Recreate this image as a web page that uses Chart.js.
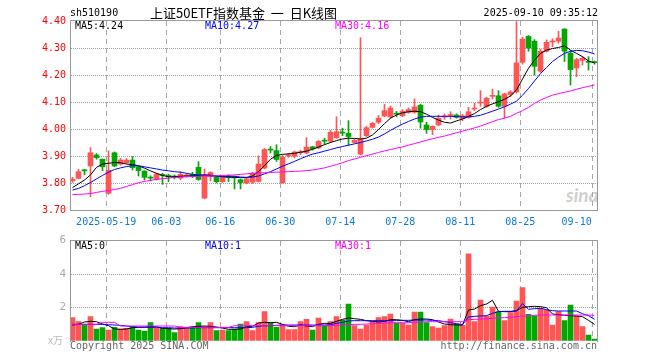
<!DOCTYPE html>
<html><head><meta charset="utf-8">
<script src="https://cdn.jsdelivr.net/npm/chart.js@4/dist/chart.umd.min.js"></script>
<style>
html,body{margin:0;padding:0;background:#fff;}
#wrap{position:relative;width:660px;height:360px;overflow:hidden;background:#fff;}
canvas{position:absolute;left:0;z-index:2;}
.g{position:absolute;z-index:1;}
.t{position:absolute;z-index:3;white-space:pre;font-family:'DejaVu Sans Mono',monospace;font-size:10px;line-height:12px;height:12px;}
</style></head><body>
<div id="wrap">
<canvas id="k" width="660" height="232" style="top:0;width:660px;height:232px"></canvas>
<canvas id="v" width="660" height="130" style="top:230px;width:660px;height:130px"></canvas>
<div class="t" style="left:70px;top:7px;color:#000">sh510190</div>
<div class="t" style="left:150px;top:5px;height:16px;line-height:16px;font-family:'Noto Sans CJK SC',sans-serif;font-size:13px;color:#000">上证50ETF指数基金  一  日K线图</div>
<div class="t" style="right:62px;top:7px;color:#000">2025-09-10 09:35:12</div>
<div class="t" style="left:75px;top:20px;color:#000">MA5:4.24</div>
<div class="t" style="left:205px;top:20px;color:#0000ff">MA10:4.27</div>
<div class="t" style="left:335px;top:20px;color:#ff00ff">MA30:4.16</div>
<div class="t" style="left:75px;top:240px;color:#000">MA5:0</div>
<div class="t" style="left:205px;top:240px;color:#0000ff">MA10:1</div>
<div class="t" style="left:335px;top:240px;color:#ff00ff">MA30:1</div>
<div class="t" style="left:70px;top:340px;color:#666">Copyright 2025 SINA.COM</div>
<div class="t" style="right:63px;top:340px;color:#666">http://finance.sina.com.cn</div>
<div class="t" style="left:48px;top:334px;color:#bbb;font-family:'Noto Sans CJK SC',sans-serif">x万</div>
<div class="t" style="left:566px;top:185px;height:20px;line-height:20px;font-family:Lato,sans-serif;font-size:19px;font-weight:bold;font-style:italic;color:#d0d0d0;z-index:0">sina</div>
</div>
<script>
const days = ['05-09','05-12','05-13','05-14','05-15','05-16','05-19','05-20','05-21','05-22',
'05-23','05-26','05-27','05-28','05-29','05-30','06-03','06-04','06-05','06-06',
'06-09','06-10','06-11','06-12','06-13','06-16','06-17','06-18','06-19','06-20',
'06-23','06-24','06-25','06-26','06-27','06-30','07-01','07-02','07-03','07-04',
'07-07','07-08','07-09','07-10','07-11','07-14','07-15','07-16','07-17','07-18',
'07-21','07-22','07-23','07-24','07-25','07-28','07-29','07-30','07-31','08-01',
'08-04','08-05','08-06','08-07','08-08','08-11','08-12','08-13','08-14','08-15',
'08-18','08-19','08-20','08-21','08-22','08-25','08-26','08-27','08-28','08-29',
'09-01','09-02','09-03','09-04','09-05','09-08','09-09','09-10'];

const openP = [3.808,3.817,3.848,3.863,3.904,3.888,3.762,3.912,3.870,3.875,
3.885,3.860,3.844,3.821,3.814,3.831,3.828,3.826,3.818,3.826,
3.832,3.858,3.744,3.826,3.821,3.805,3.826,3.822,3.812,3.800,
3.803,3.806,3.855,3.925,3.920,3.801,3.900,3.899,3.912,3.911,
3.934,3.930,3.958,3.955,3.968,3.988,3.984,3.950,3.907,3.975,
4.006,4.025,4.048,4.045,4.058,4.049,4.062,4.062,4.088,4.015,
3.998,4.015,4.044,4.050,4.052,4.038,4.043,4.074,4.096,4.084,
4.121,4.123,4.084,4.128,4.137,4.247,4.343,4.325,4.214,4.288,
4.322,4.325,4.370,4.281,4.226,4.254,4.249,4.248];

const highP = [3.821,3.851,3.850,3.931,3.909,3.889,3.919,3.915,3.891,3.891,
3.898,3.862,3.846,3.827,3.836,3.836,3.833,3.830,3.842,3.835,
3.840,3.879,3.852,3.842,3.826,3.826,3.830,3.826,3.815,3.820,
3.840,3.900,3.928,3.935,3.942,3.902,3.910,3.918,3.922,3.968,
3.936,3.957,3.966,3.995,4.045,4.003,4.031,3.962,4.338,4.010,
4.025,4.050,4.092,4.085,4.065,4.072,4.078,4.112,4.092,4.025,
4.012,4.052,4.056,4.064,4.056,4.054,4.080,4.096,4.142,4.118,
4.148,4.142,4.133,4.142,4.398,4.340,4.346,4.331,4.295,4.330,
4.334,4.362,4.372,4.290,4.262,4.268,4.268,4.252];

const lowP = [3.802,3.815,3.830,3.749,3.888,3.846,3.758,3.860,3.866,3.872,
3.848,3.826,3.811,3.807,3.811,3.795,3.805,3.815,3.812,3.822,
3.820,3.810,3.742,3.808,3.800,3.802,3.805,3.778,3.778,3.797,
3.798,3.803,3.852,3.911,3.880,3.799,3.895,3.893,3.905,3.908,
3.922,3.927,3.944,3.950,3.965,3.975,3.940,3.948,3.903,3.972,
4.003,4.020,4.045,4.040,4.045,4.045,4.058,4.058,4.003,3.984,
3.979,4.012,4.036,4.037,4.040,4.030,4.040,4.068,4.084,4.080,
4.111,4.080,4.040,4.120,4.133,4.240,4.288,4.200,4.210,4.285,
4.305,4.318,4.250,4.163,4.194,4.237,4.218,4.240];

const closeP = [3.814,3.842,3.845,3.912,3.894,3.860,3.847,3.863,3.885,3.885,
3.857,3.846,3.821,3.818,3.833,3.828,3.824,3.822,3.832,3.830,
3.826,3.813,3.830,3.839,3.805,3.824,3.820,3.819,3.802,3.815,
3.836,3.870,3.924,3.922,3.887,3.895,3.904,3.915,3.916,3.933,
3.926,3.954,3.955,3.988,3.990,3.985,3.972,3.958,3.963,4.005,
4.021,4.040,4.068,4.078,4.055,4.066,4.072,4.082,4.026,3.998,
4.010,4.040,4.048,4.053,4.043,4.049,4.064,4.077,4.099,4.114,
4.124,4.084,4.130,4.137,4.245,4.333,4.300,4.232,4.288,4.321,
4.326,4.337,4.288,4.220,4.257,4.262,4.247,4.246];

const volume = [1.38,1.14,0.94,1.44,0.70,0.78,0.64,0.80,0.70,0.74,
0.84,0.64,0.58,1.08,0.74,0.74,0.74,0.48,0.84,0.74,
0.80,1.08,0.84,1.08,0.60,0.64,0.60,0.70,1.00,1.14,
0.60,1.08,1.74,1.08,0.80,0.94,0.66,0.66,1.14,1.28,
0.64,1.36,0.90,1.14,1.44,1.24,2.20,0.90,0.70,0.94,
1.14,1.38,1.44,1.60,1.04,1.04,0.94,1.72,1.72,1.08,
0.84,0.76,0.90,1.30,1.00,0.92,5.20,1.14,2.44,1.48,
2.02,1.74,1.20,1.68,2.38,3.18,1.58,1.48,1.94,1.84,
0.94,1.74,1.20,2.14,1.48,0.84,0.34,0.10];

const ma5 = [3.783,3.797,3.811,3.830,3.858,3.870,3.873,3.876,3.875,3.870,
3.868,3.864,3.855,3.845,3.836,3.828,3.823,3.823,3.825,3.826,
3.826,3.828,3.830,3.829,3.826,3.823,3.822,3.821,3.820,3.820,
3.826,3.842,3.864,3.888,3.902,3.906,3.908,3.910,3.914,3.918,
3.925,3.933,3.942,3.950,3.957,3.963,3.966,3.965,3.963,3.966,
3.978,3.998,4.020,4.040,4.052,4.060,4.064,4.066,4.064,4.055,
4.043,4.033,4.025,4.022,4.030,4.037,4.047,4.057,4.072,4.084,
4.093,4.101,4.110,4.122,4.145,4.185,4.225,4.255,4.280,4.292,
4.298,4.302,4.308,4.292,4.280,4.268,4.252,4.245];

const ma10 = [3.774,3.780,3.790,3.802,3.815,3.828,3.840,3.850,3.856,3.861,
3.864,3.864,3.860,3.856,3.852,3.848,3.845,3.842,3.840,3.836,
3.832,3.830,3.828,3.826,3.825,3.825,3.825,3.825,3.822,3.821,
3.822,3.826,3.834,3.842,3.852,3.862,3.871,3.880,3.890,3.899,
3.907,3.912,3.918,3.924,3.930,3.935,3.940,3.945,3.950,3.956,
3.962,3.970,3.982,3.995,4.007,4.018,4.028,4.037,4.044,4.047,
4.047,4.047,4.047,4.047,4.046,4.045,4.045,4.047,4.051,4.058,
4.066,4.074,4.082,4.092,4.103,4.125,4.150,4.178,4.205,4.228,
4.250,4.266,4.280,4.288,4.291,4.290,4.285,4.278];

const ma30 = [3.757,3.758,3.759,3.761,3.765,3.769,3.772,3.776,3.780,3.787,
3.794,3.801,3.806,3.810,3.813,3.816,3.818,3.820,3.822,3.823,
3.824,3.825,3.826,3.826,3.827,3.828,3.829,3.830,3.832,3.834,
3.836,3.837,3.838,3.839,3.840,3.841,3.842,3.843,3.844,3.846,
3.848,3.852,3.856,3.862,3.868,3.875,3.883,3.889,3.895,3.901,
3.907,3.913,3.919,3.924,3.929,3.934,3.940,3.946,3.952,3.958,
3.964,3.969,3.974,3.980,3.986,3.992,3.998,4.004,4.011,4.019,
4.027,4.035,4.040,4.047,4.058,4.068,4.080,4.095,4.107,4.117,
4.125,4.131,4.136,4.141,4.147,4.153,4.158,4.163];

const volMa5 = [0.94,0.98,1.12,1.16,1.14,1.00,0.90,0.70,0.68,0.70,
0.78,0.80,0.82,0.86,0.84,0.74,0.72,0.70,0.72,0.78,
0.84,0.86,0.88,0.86,0.82,0.76,0.68,0.68,0.70,0.84,
0.86,1.06,1.10,1.08,1.10,0.98,0.86,0.84,0.94,0.88,
0.84,0.98,1.04,1.04,1.16,1.28,1.36,1.32,1.28,1.20,
1.16,1.12,1.16,1.26,1.26,1.22,1.14,1.26,1.30,1.30,
1.26,1.12,1.00,0.96,0.94,0.94,1.84,1.90,2.10,2.20,
2.42,1.76,1.74,1.74,1.80,2.00,2.04,2.06,2.04,1.98,
1.60,1.56,1.52,1.50,1.48,1.44,1.22,0.98];

const volMa10 = [0.98,0.98,0.98,0.98,0.98,0.98,0.96,0.94,0.92,0.88,
0.84,0.82,0.80,0.80,0.80,0.78,0.78,0.76,0.76,0.76,
0.76,0.78,0.78,0.78,0.78,0.78,0.78,0.78,0.78,0.78,
0.80,0.86,0.90,0.90,0.92,0.94,0.94,0.94,0.94,0.94,
0.94,0.94,0.94,0.96,1.04,1.10,1.18,1.20,1.20,1.20,
1.20,1.20,1.20,1.20,1.20,1.22,1.22,1.24,1.24,1.24,
1.22,1.20,1.14,1.08,1.02,0.96,1.42,1.46,1.48,1.50,
1.64,1.74,1.76,1.76,1.78,2.22,1.88,1.92,1.94,1.86,
1.80,1.78,1.78,1.78,1.78,1.62,1.50,1.28];

const volMa30 = [0.98,0.98,0.98,0.98,0.98,1.10,1.10,1.10,0.88,0.88,
0.88,0.88,0.88,0.88,0.88,0.88,0.88,0.88,0.80,0.80,
0.80,0.80,0.80,0.80,0.80,0.80,0.80,0.90,0.90,0.90,
0.90,0.90,0.90,0.90,0.90,0.90,0.90,0.90,0.90,0.90,
0.90,0.90,0.90,0.90,0.92,0.94,0.96,0.98,0.98,1.00,
1.02,1.04,1.06,1.08,1.08,1.08,1.08,1.10,1.12,1.14,
1.14,1.14,1.14,1.14,1.14,1.14,1.26,1.28,1.30,1.32,
1.34,1.36,1.38,1.40,1.44,1.48,1.48,1.52,1.54,1.54,
1.54,1.54,1.54,1.54,1.54,1.54,1.54,1.52];

const tickDays = ['05-19','06-03','06-16','06-30','07-14','07-28','08-11','08-25','09-10'];
const tickLabels = ['2025-05-19','06-03','06-16','06-30','07-14','07-28','08-11','08-25','09-10'];
const priceTicks = [3.70,3.80,3.90,4.00,4.10,4.20,4.30,4.40];
const volTicks = [0,2,4,6];

const UP = '#ff5555', DOWN = '#00a800';
const MONO = "'DejaVu Sans Mono', monospace";
const idx = days.map((d, i) => i);
const tickIdx = tickDays.map(d => days.indexOf(d));
const isUp = i => closeP[i] >= openP[i];
const colorOf = c => isUp(c.dataIndex) ? UP : DOWN;
const XMIN = -0.41667, XMAX = 87.58333;
const GRID_SHIFT = 0.38;

function lineDs(arr, color) {
  return { type: 'line', data: idx.map(i => ({ x: i, y: arr[i] })), borderColor: color,
    borderWidth: 1, pointRadius: 0, fill: false, tension: 0, order: 0 };
}

const gridX = {
  type: 'linear', min: XMIN, max: XMAX, position: 'bottom', offset: false,
  ticks: { display: false },
  grid: { display: false, offset: false, drawTicks: false },
  border: { display: false },
  afterFit: a => { a.height = 0; }
};

const framePlugin = (sides) => ({
  id: 'frame',
  afterDraw(chart) {
    const { ctx, chartArea: a } = chart;
    const L = Math.round(a.left), R = Math.round(a.right) - 1;
    const T = Math.round(a.top) - 1, B = Math.round(a.bottom);
    ctx.save();
    ctx.fillStyle = '#999';
    ctx.fillRect(L, T, R - L + 1, 1);
    ctx.fillRect(L, T, 1, B - T + 1);
    ctx.fillRect(R, T, 1, B - T + 1);
    if (sides === 4) ctx.fillRect(L, B, R - L + 1, 1);
    ctx.restore();
  }
});

const priceChart = new Chart(document.getElementById('k'), {
  type: 'bar',
  data: {
    datasets: [
      { type: 'bar', data: idx.map(i => ({ x: i, y: [lowP[i], highP[i]] })), backgroundColor: colorOf,
        barThickness: 1, grouped: false, order: 3, borderWidth: 0 },
      { type: 'bar', data: idx.map(i => ({ x: i, y: [openP[i], closeP[i]] })), backgroundColor: colorOf,
        barThickness: 5, minBarLength: 1, grouped: false, order: 2, borderWidth: 0 },
      lineDs(ma30, '#ff00ff'),
      lineDs(ma10, '#0000ff'),
      lineDs(ma5, '#000000')
    ]
  },
  options: {
    animation: false, responsive: false, devicePixelRatio: 1,
    layout: { padding: { left: 0, right: 62, top: 21, bottom: 0 } },
    plugins: { legend: { display: false }, tooltip: { enabled: false } },
    scales: {
      x: gridX,
      xl: {
        type: 'linear', min: XMIN, max: XMAX, position: 'bottom', offset: false,
        afterBuildTicks: a => {
          a.ticks = tickIdx.map((i, k) => ({ value: i - GRID_SHIFT - (k === tickIdx.length - 1 ? 2.6 : 0) }));
        },
        ticks: { color: '#0b7bd6', font: { family: MONO, size: 10 }, padding: 6, maxRotation: 0, minRotation: 0,
          autoSkip: false, callback: (v, k) => tickLabels[k] },
        grid: { display: false, drawTicks: false },
        border: { display: false },
        afterFit: a => { a.height = 22; }
      },
      y: {
        min: priceTicks[0], max: priceTicks[priceTicks.length - 1],
        afterBuildTicks: a => { a.ticks = priceTicks.map(v => ({ value: v })); },
        ticks: { color: '#ff0000', font: { family: MONO, size: 10 }, padding: 4, callback: v => v.toFixed(2) },
        grid: { display: false, drawTicks: false },
        border: { display: false },
        afterFit: a => { a.width = 70; }
      }
    }
  },
  plugins: [framePlugin(4)]
});

const volChart = new Chart(document.getElementById('v'), {
  type: 'bar',
  data: {
    datasets: [
      { type: 'bar', data: idx.map(i => ({ x: i, y: volume[i] })), backgroundColor: colorOf,
        barThickness: 5, grouped: false, order: 2, borderWidth: 0 },
      lineDs(volMa30, '#ff00ff'),
      lineDs(volMa10, '#0000ff'),
      lineDs(volMa5, '#000000')
    ]
  },
  options: {
    animation: false, responsive: false, devicePixelRatio: 1,
    layout: { padding: { left: 0, right: 62, top: 10, bottom: 19.3 } },
    plugins: { legend: { display: false }, tooltip: { enabled: false } },
    scales: {
      x: gridX,
      y: {
        min: volTicks[0], max: volTicks[volTicks.length - 1],
        afterBuildTicks: a => { a.ticks = volTicks.map(v => ({ value: v })); },
        ticks: { color: '#aaa', font: { family: MONO, size: 11 }, padding: 4, callback: v => v === 0 ? '' : String(v) },
        grid: { display: false, drawTicks: false },
        border: { display: false },
        afterFit: a => { a.width = 70; }
      }
    }
  },
  plugins: [framePlugin(3)]
});

// Grid lines as layers behind the (transparent) canvases, positioned by each chart's own scales.
function addGrid(chart, yTicks, topOffset) {
  const wrap = document.getElementById('wrap');
  const a = chart.chartArea, s = chart.scales;
  const L = Math.round(a.left), R = Math.round(a.right), T = Math.round(a.top), B = Math.round(a.bottom);
  yTicks.slice(1, -1).forEach(v => {
    const y = Math.round(s.y.getPixelForValue(v)) + topOffset;
    const d = document.createElement('div');
    d.className = 'g';
    d.style.cssText = 'left:' + (L + 1) + 'px;top:' + y + 'px;width:' + (R - L - 2) + 'px;height:1px;' +
      'background:repeating-linear-gradient(to right,#a0a0a0 0px,#a0a0a0 1px,transparent 1px,transparent 2px);';
    wrap.appendChild(d);
  });
  tickIdx.forEach(i => {
    const x = Math.round(s.x.getPixelForValue(i - GRID_SHIFT));
    const d = document.createElement('div');
    d.className = 'g';
    d.style.cssText = 'left:' + x + 'px;top:' + (T + topOffset) + 'px;width:1px;height:' + (B - T) + 'px;' +
      'background:repeating-linear-gradient(to bottom,#a8a8a8 0px,#a8a8a8 5px,transparent 5px,transparent 9px);';
    wrap.appendChild(d);
  });
}
addGrid(priceChart, priceTicks, 0);
addGrid(volChart, volTicks, 230);
</script>
</body></html>
